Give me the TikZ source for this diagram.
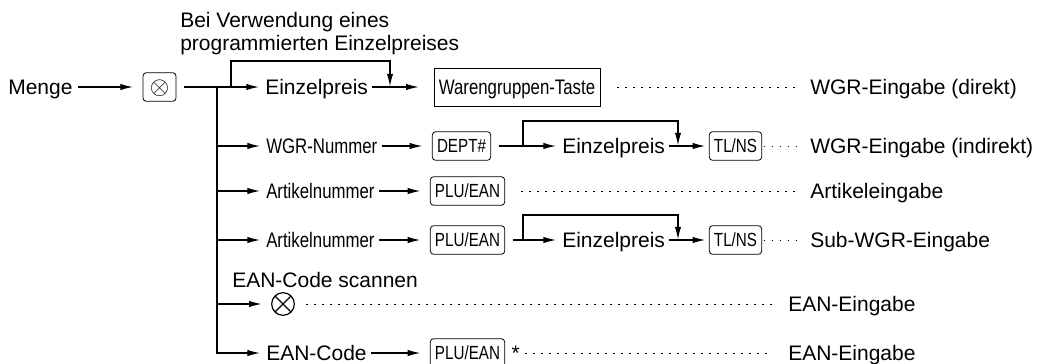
\documentclass[tikz,border=0pt]{standalone}
\usepackage{fontspec}
\setmainfont{Liberation Sans}
\newfontfamily\narrowfont[FakeStretch=0.8]{Liberation Sans}
\usetikzlibrary{arrows.meta}

\tikzset{
  txt/.style={anchor=west, inner sep=3pt, text height=11pt, text depth=0pt,
    font=\fontsize{15.75}{19}\selectfont},
  ntxt/.style={txt, font=\narrowfont\fontsize{15.75}{19}\selectfont},
  key/.style={draw, rounded corners=2.5pt, line width=0.6pt, minimum height=21.5pt,
    inner xsep=3.5pt, inner ysep=0pt, outer sep=6pt, text height=10pt, text depth=0pt,
    font=\narrowfont\fontsize{14.25}{17}\selectfont},
  arr/.style={line width=0.9pt, -{Latex[length=9.5pt,width=4.8pt]}, shorten >=1.5pt},
  dots/.style={line width=0.75pt, dash pattern=on 1pt off 5pt, shorten >=4.5pt},
}

\begin{document}
\begin{tikzpicture}[x=0.75pt,y=0.75pt,yscale=-1,xscale=1]
\useasboundingbox (0,0) rectangle (1039,364);

% Text Node
\node[txt] (title1) at (176,20.5) {Bei Verwendung eines};
\node[txt] (title2) at (176,43.5) {programmierten Einzelpreises};

%Row 1
\node[txt] (menge) at (4,87) {Menge};
\node[key, minimum width=24.75pt, inner xsep=0pt] (mult) at (159.5,87) {\raisebox{-1pt}{\scalebox{1.3}{$\otimes$}}};
\node[txt] (ep1) at (261,87) {Einzelpreis};
\node[draw, line width=0.7pt, minimum width=124.5pt, minimum height=28.5pt, outer sep=10pt,
  text height=11pt, text depth=0pt, font=\narrowfont\fontsize{15.75}{19}\selectfont] (waren) at (517,87) {Warengruppen-Taste};
\node[txt] (wgr1) at (806,87) {WGR-Eingabe (direkt)};
\coordinate (tr) at (217,87);
\coordinate (b1a) at (231,87);
\coordinate (b1b) at (390,87);

\draw[arr, shorten <=1pt] (menge) -- (mult);
\draw[arr] (mult) -- (ep1);
\draw[arr, shorten >=0.4pt] (b1a) -- ++(0,-26) -| (b1b);
\draw[arr] (ep1) -- (waren);
\draw[dots, shorten <=3pt] (waren) -- (wgr1);

%Row 2
\node[ntxt] (wgrn) at (262,146) {WGR-Nummer};
\node[key] (dept) at (461.5,146) {DEPT\#};
\node[txt] (ep2) at (558,146) {Einzelpreis};
\node[key, outer sep=1.5pt] (tlns1) at (735.5,146) {TL/NS};
\node[txt] (wgr2) at (806,146) {WGR-Eingabe (indirekt)};
\coordinate (b2a) at (523,146);
\coordinate (b2b) at (678,146);

\draw[arr] (wgrn -| tr) -- (wgrn);
\draw[arr] (wgrn) -- (dept);
\draw[arr] (dept) -- (ep2);
\draw[arr, shorten >=0.4pt] (b2a) -- ++(0,-25) -| (b2b);
\draw[arr] (ep2) -- (tlns1);
\draw[dots] (tlns1) -- (wgr2);

%Row 3
\node[ntxt] (art1) at (262,191) {Artikelnummer};
\node[key] (plu1) at (467.5,191) {PLU/EAN};
\node[txt] (artin) at (806,191) {Artikeleingabe};

\draw[arr] (art1 -| tr) -- (art1);
\draw[arr] (art1) -- (plu1);
\draw[dots, shorten <=6.5pt] (plu1) -- (artin);

%Row 4
\node[ntxt] (art2) at (262,240) {Artikelnummer};
\node[key] (plu2) at (467.5,240) {PLU/EAN};
\node[txt] (ep3) at (558,240) {Einzelpreis};
\node[key, outer sep=1.5pt] (tlns2) at (735.5,240) {TL/NS};
\node[txt] (subin) at (806,240) {Sub-WGR-Eingabe};
\coordinate (b4a) at (523,240);
\coordinate (b4b) at (678,240);

\draw[arr] (art2 -| tr) -- (art2);
\draw[arr] (art2) -- (plu2);
\draw[arr] (plu2) -- (ep3);
\draw[arr, shorten >=0.4pt] (b4a) -- ++(0,-25) -| (b4b);
\draw[arr] (ep3) -- (tlns2);
\draw[dots] (tlns2) -- (subin);

%Row 5
\node[txt] (scantxt) at (228,280) {EAN-Code scannen};
\node[circle, draw, line width=0.9pt, minimum size=17pt, inner sep=0pt, outer sep=6pt,
  path picture={\draw[line width=0.9pt] (path picture bounding box.north west) -- (path picture bounding box.south east)
    (path picture bounding box.south west) -- (path picture bounding box.north east);}] (scan) at (283,304) {};
\node[txt] (ean1) at (784,304) {EAN-Eingabe};

\draw[arr] (scan -| tr) -- (scan);
\draw[dots, shorten <=3pt, shorten >=8pt] (scan) -- (ean1);

%Row 6
\node[txt] (eancode) at (262,353) {EAN-Code};
\node[key] (plu3) at (467.5,353) {PLU/EAN};
\node[txt, inner sep=1pt] (star) at (510,353) {*};
\node[txt] (ean2) at (784,353) {EAN-Eingabe};

\draw[arr] (tr) |- (eancode);
\draw[arr] (eancode) -- (plu3);
\draw[dots, shorten <=3pt, shorten >=8pt] (star) -- (ean2);

\end{tikzpicture}
\end{document}
